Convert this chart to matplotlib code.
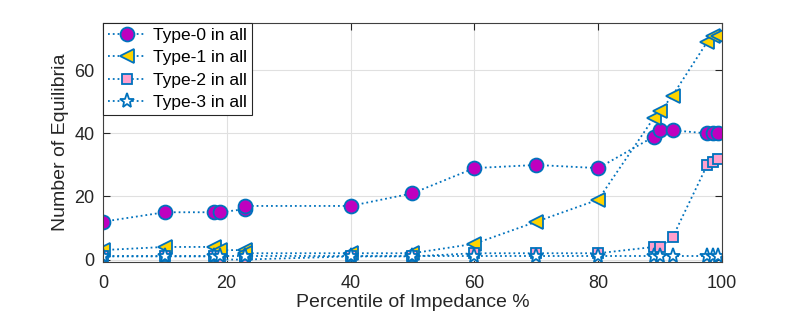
import matplotlib
matplotlib.use("Agg")
import matplotlib.pyplot as plt

plt.rcParams['font.family'] = ['Liberation Sans', 'DejaVu Sans']

# percentile of impedance
pct = [0, 10, 18, 19, 23, 23, 40, 50, 60, 70, 80, 89, 90, 92, 97.6, 98.5, 99.4]

type0 = [12, 15, 15, 15, 16, 17, 17, 21, 29, 30, 29, 39, 41, 41, 40, 40, 40]
type1 = [3, 4, 4, 3, 3, 2, 2, 2, 5, 12, 19, 45, 47, 52, 69, 71, 71]
type2 = [1, 1, 1, 0, 0, 0, 1, 1, 2, 2, 2, 4, 4, 7, 30, 31, 32]
type3 = [1, 1, 1, 1, 1, 1, 1, 1, 1, 1, 1, 1, 1, 1, 1, 1, 1]

labels = ['Type-0 in all', 'Type-1 in all', 'Type-2 in all', 'Type-3 in all']

blue = '#0072BD'
fig = plt.figure(figsize=(7.97, 3.2), dpi=100)
ax = fig.add_axes([0.129, 0.181, 0.777, 0.747])

ax.plot(pct, type0, ':', color=blue, lw=1.3, marker='o', ms=10,
        mfc='#BF00BF', mec=blue, mew=1.3, label=labels[0])
ax.plot(pct, type1, ':', color=blue, lw=1.3, marker='<', ms=10.5,
        mfc='#FFD400', mec=blue, mew=1.3, label=labels[1])
ax.plot(pct, type2, ':', color=blue, lw=1.3, marker='s', ms=7.5,
        mfc='#FFA0CC', mec=blue, mew=1.3, label=labels[2])
ax.plot(pct, type3, ':', color=blue, lw=1.3, marker='*', ms=11,
        mfc='white', mec=blue, mew=1.3, label=labels[3])

ax.set_xlim(0, 100)
ax.set_ylim(-0.8, 75)
ax.set_xticks([0, 20, 40, 60, 80, 100])
ax.set_yticks([0, 20, 40, 60])
ax.grid(True, color='#E0E0E0', lw=0.8)
ax.set_axisbelow(True)
ax.tick_params(direction='in', top=True, right=True, labelsize=13,
               colors='#262626', length=5)
ax.tick_params(axis='x', pad=9)
ax.tick_params(axis='y', pad=6)
for s in ax.spines.values():
    s.set_color('#404040')
    s.set_linewidth(0.8)

ax.set_xlabel('Percentile of Impedance %', fontsize=14, color='#262626',
              labelpad=2)
ax.set_ylabel('Number of Equilibria', fontsize=14, color='#262626')

leg = ax.legend(loc='upper left', fontsize=12.5, fancybox=False, framealpha=1,
                edgecolor='#262626', borderaxespad=0, handlelength=2.2,
                handletextpad=0.4, borderpad=0.3, labelspacing=0.4)
leg.get_frame().set_linewidth(0.8)

fig.savefig('out.png', dpi=100)
